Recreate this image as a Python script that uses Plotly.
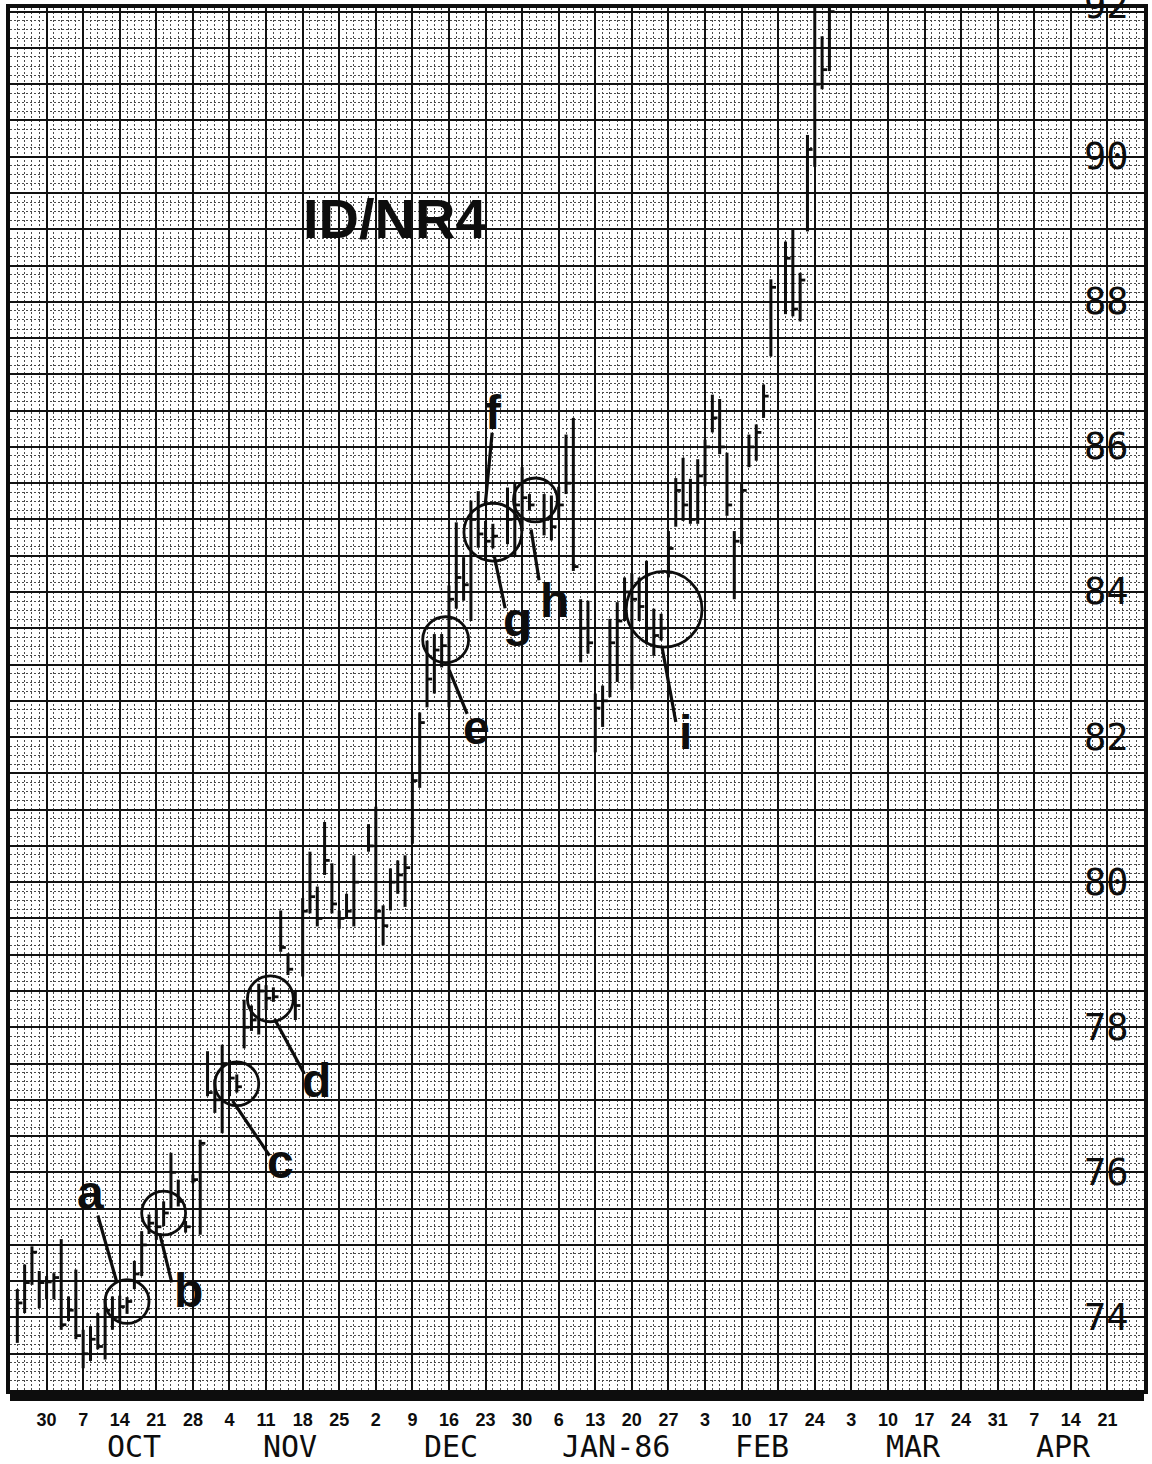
import plotly.graph_objects as go

# ---------------------------------------------------------------------------
# Daily T-bond futures bars (high / low / close).
# Slot 0 = Monday 30 Sep 1985, five trading-day slots per week on the paper,
# exchange holidays are simply left empty.
# ---------------------------------------------------------------------------
slot = [
    -4, -3, -2, -1,
    0, 1, 2, 3, 4,
    5, 6, 7, 8, 9,
    10, 11, 12, 13, 14,
    15, 16, 17, 18, 19,
    20, 21, 22, 23, 24,
    25, 26, 27, 28, 29,
    30, 31, 32, 33, 34,
    35, 36, 37, 38, 39,
    40, 41, 42, 44,
    45, 46, 47, 48, 49,
    50, 51, 52, 53, 54,
    55, 56, 57, 58, 59,
    60, 61, 63, 64,
    65, 66, 68, 69,
    70, 71, 72, 73, 74,
    75, 76, 77, 78, 79,
    80, 81, 82, 83, 84,
    85, 86, 87, 88, 89,
    90, 91, 92, 93, 94,
    95, 96, 97, 98, 99,
    101, 102, 103, 104,
    105, 106, 107,
]
high = [
    74.39, 74.73, 74.98, 74.64,
    74.57, 74.61, 75.08, 74.29, 74.66,
    73.83, 73.88, 74.06, 74.25, 74.29,
    74.30, 74.28, 74.78, 75.19, 75.42,
    75.50, 75.60, 76.27, 75.90, 75.33,
    75.97, 76.45, 77.67, 77.28, 77.76,
    77.55, 77.35, 78.38, 78.30, 78.60,
    78.58, 78.55, 79.61, 79.02, 78.51,
    79.78, 80.42, 79.94, 80.83, 80.26,
    79.61, 79.84, 80.37, 80.80,
    81.04, 79.68, 80.19, 80.30, 80.37,
    81.50, 82.34, 83.33, 83.42, 83.42,
    84.09, 84.96, 84.48, 85.26, 85.39,
    84.98, 84.94, 85.44, 85.50,
    85.72, 85.35, 85.35, 85.33,
    85.45, 86.17, 86.40, 83.90, 83.88,
    82.60, 82.71, 83.63, 83.86, 84.20,
    84.25, 84.20, 84.43, 83.77, 83.70,
    84.84, 85.57, 85.85, 85.56, 85.83,
    86.10, 86.72, 86.66, 85.92, 84.84,
    85.49, 86.17, 86.31, 86.86, 88.31,
    88.83, 89.00, 88.40, 90.30,
    92.50, 91.66, 92.50,
]
low = [
    73.65, 74.06, 74.45, 74.13,
    74.25, 74.25, 73.83, 73.95, 73.70,
    73.30, 73.40, 73.56, 73.42, 73.83,
    73.95, 74.05, 74.39, 74.57, 75.15,
    75.07, 75.26, 75.49, 75.53, 75.17,
    75.85, 75.14, 77.05, 76.82, 76.54,
    77.05, 77.10, 77.71, 77.95, 77.90,
    78.24, 78.35, 79.04, 78.72, 78.10,
    78.70, 79.57, 79.39, 80.10, 79.57,
    79.36, 79.50, 79.39, 80.42,
    79.48, 79.13, 79.61, 79.84, 79.66,
    80.53, 81.30, 82.41, 82.60, 82.96,
    82.41, 83.77, 83.88, 83.60, 84.61,
    84.43, 84.60, 84.66, 84.50,
    84.84, 85.12, 84.78, 84.71,
    85.00, 85.35, 84.29, 83.03, 83.15,
    81.79, 82.14, 82.55, 82.76, 83.60,
    82.65, 83.60, 83.28, 83.12, 83.33,
    84.20, 84.90, 84.98, 84.94, 84.94,
    85.46, 86.20, 85.90, 85.05, 83.90,
    84.66, 85.72, 85.81, 86.40, 87.25,
    87.83, 87.80, 87.73, 88.97,
    89.86, 90.93, 91.18,
]
close = [
    74.20, 74.48, 74.90, 74.48,
    74.49, 74.55, 73.90, 74.10, 73.75,
    73.50, 73.70, 73.60, 74.10, 74.00,
    74.15, 74.22, 74.60, 75.00, 75.30,
    75.25, 75.44, 76.00, 75.60, 75.25,
    75.90, 76.40, 77.10, 77.00, 77.50,
    77.30, 77.18, 78.00, 78.10, 78.50,
    78.40, 78.42, 79.10, 78.80, 78.30,
    79.60, 79.80, 79.50, 80.30, 79.70,
    79.50, 79.60, 80.00, 80.50,
    79.60, 79.40, 80.00, 80.10, 80.20,
    81.40, 82.20, 82.80, 83.20, 83.26,
    83.90, 84.20, 84.10, 85.00, 84.80,
    84.70, 84.77, 85.00, 85.20,
    85.30, 85.20, 85.00, 84.90,
    85.20, 85.50, 84.35, 83.50, 83.30,
    82.40, 82.50, 83.30, 83.60, 84.00,
    83.90, 83.80, 83.50, 83.40, 83.50,
    84.60, 85.40, 85.20, 85.00, 85.60,
    86.00, 86.40, 86.00, 85.20, 84.70,
    85.40, 86.00, 86.20, 86.70, 88.20,
    88.60, 87.90, 88.30, 90.10,
    91.00, 91.20, 92.00,
]

# Monday date of each week column on the chart paper
week_day_labels = ["30", "7", "14", "21", "28", "4", "11", "18", "25", "2",
                   "9", "16", "23", "30", "6", "13", "20", "27", "3", "10",
                   "17", "24", "3", "10", "17", "24", "31", "7", "14", "21"]
month_names = ["OCT", "NOV", "DEC", "JAN-86", "FEB", "MAR", "APR"]
price_labels = [74, 76, 78, 80, 82, 84, 86, 88, 90, 92]

# inside days flagged as NR4 (letter, bar slot)
nr4_tags = ["a", "b", "c", "d", "e", "g", "h", "i"]
nr4_slots = [11, 16, 26, 31, 54, 61, 66, 84]

# ---------------------------------------------------------------------------
# Page geometry (pixels) and helpers to place decorations by pixel
# ---------------------------------------------------------------------------
W, H = 1152, 1464
L_PX, R_PX, T_PX, B_PX = 10, 1146, 4, 1390
X0, X1 = -5, 150
Y0, Y1 = 73.0, 92.05


def px_x(px):
    return X0 + (px - L_PX) / (R_PX - L_PX) * (X1 - X0)


def px_y(py):
    return Y0 + (B_PX - py) / (B_PX - T_PX) * (Y1 - Y0)


def dx_px(n):
    return n / (R_PX - L_PX) * (X1 - X0)


def dy_px(n):
    return n / (B_PX - T_PX) * (Y1 - Y0)


def paper_y(py):
    return (B_PX - py) / (B_PX - T_PX)


def paper_x(px):
    return (px - L_PX) / (R_PX - L_PX)


INK = "#0d0d0d"
LETTERING = "DejaVu Sans Mono, Liberation Mono, monospace"
BOLD = "Liberation Sans, Arial, sans-serif"

# ---------------------------------------------------------------------------
# Bars: high-low stems plus a close tick to the right
# ---------------------------------------------------------------------------
stem_x, stem_y, tick_x, tick_y = [], [], [], []
for s, hi, lo, cl in zip(slot, high, low, close):
    stem_x += [s, s, None]
    stem_y += [lo, hi, None]
    tick_x += [s, s + 0.7, None]
    tick_y += [cl, cl, None]

fig = go.Figure()
fig.add_trace(go.Scatter(x=stem_x, y=stem_y, mode="lines",
                         line=dict(color=INK, width=3), hoverinfo="skip",
                         showlegend=False))
fig.add_trace(go.Scatter(x=tick_x, y=tick_y, mode="lines",
                         line=dict(color=INK, width=2.8), hoverinfo="skip",
                         showlegend=False))

shapes = []
annotations = []

# NR4 rings: centred on the flagged bar's close, with small pixel nudges
ring_style = {  # tag: (radius px, nudge x px, nudge y px)
    "a": (22, 0, 0), "b": (22, 0, 0), "c": (22, 0, -3), "d": (23, -3, 2),
    "e": (23, 4, -6), "g": (29, 0, -4), "h": (22, 6, -5), "i": (38, 3, -19),
}
close_by_slot = dict(zip(slot, close))
for tag, s in zip(nr4_tags, nr4_slots):
    r, nx, ny = ring_style[tag]
    cx = s + dx_px(nx)
    cy = close_by_slot[s] - dy_px(ny)
    shapes.append(dict(type="circle", xref="x", yref="y",
                       x0=cx - dx_px(r), x1=cx + dx_px(r),
                       y0=cy - dy_px(r), y1=cy + dy_px(r),
                       line=dict(color=INK, width=2.8)))

# letters and leader lines (pixel placement)
letter_pos = {
    "a": (91, 1192), "b": (189, 1290), "c": (281, 1161), "d": (317, 1080),
    "e": (477, 726), "f": (494, 410), "g": (518, 617), "h": (555, 598),
    "i": (687, 731),
}
leaders = {
    "a": ((98, 1215), (117, 1282)), "b": ((160, 1233), (172, 1282)),
    "c": ((233, 1100), (270, 1155)), "d": ((275, 1018), (305, 1073)),
    "e": ((450, 668), (468, 712)), "f": ((493, 430), (486, 503)),
    "g": ((495, 553), (506, 606)), "h": ((532, 527), (540, 578)),
    "i": ((663, 644), (677, 720)),
}
for tag, (px, py) in letter_pos.items():
    annotations.append(dict(x=px_x(px), y=px_y(py), xref="x", yref="y",
                            text=tag, showarrow=False, xanchor="center",
                            yanchor="middle",
                            font=dict(family=BOLD, size=48, color=INK,
                                      weight="bold")))
for (p0, p1) in leaders.values():
    shapes.append(dict(type="line", xref="x", yref="y",
                       x0=px_x(p0[0]), y0=px_y(p0[1]),
                       x1=px_x(p1[0]), y1=px_y(p1[1]),
                       line=dict(color=INK, width=3.2)))

# title
annotations.append(dict(x=px_x(396), y=px_y(215), xref="x", yref="y",
                        text="ID/NR4", showarrow=False,
                        font=dict(family=BOLD, size=56, color=INK,
                                  weight="bold")))

# price scale lettered inside the right edge (top figure runs off the sheet)
for p in price_labels:
    annotations.append(dict(x=paper_x(1108), y=p, xref="paper", yref="y",
                            text=str(p), showarrow=False, xanchor="center",
                            yanchor="middle", yshift=6 if p == 92 else 0,
                            font=dict(family=LETTERING, size=37, color=INK)))

# month names under the week row
month_px = [134, 290, 452, 617, 763, 915, 1065]
for name, mx in zip(month_names, month_px):
    annotations.append(dict(x=px_x(mx), y=paper_y(1447), xref="x",
                            yref="paper", text=name, showarrow=False,
                            xanchor="center", yanchor="middle",
                            font=dict(family=LETTERING, size=30, color=INK)))

# heavy base bar under the paper
shapes.append(dict(type="rect", xref="paper", yref="paper",
                   x0=0, x1=1, y0=paper_y(1401), y1=paper_y(1390),
                   fillcolor=INK, line=dict(width=0)))

week_slots = list(range(0, 150, 5))

fig.update_layout(
    width=W, height=H,
    margin=dict(l=L_PX, r=W - R_PX, t=T_PX, b=H - B_PX),
    paper_bgcolor="white", plot_bgcolor="white",
    shapes=shapes, annotations=annotations,
    xaxis=dict(range=[X0, X1], tickmode="array", tickvals=week_slots,
               ticktext=week_day_labels, ticks="", showgrid=True,
               gridcolor="#111111", gridwidth=1.6, zeroline=False,
               showline=True, mirror=True, linecolor=INK, linewidth=4,
               ticklabelstandoff=10,
               tickfont=dict(family=BOLD, size=18, color=INK, weight="bold"),
               minor=dict(tickmode="linear", tick0=0, dtick=1, showgrid=True,
                          gridcolor="#4a4a4a", griddash="1.5px,2.5px",
                          gridwidth=1)),
    yaxis=dict(range=[Y0, Y1], tick0=0, dtick=0.5, showticklabels=False,
               ticks="", showgrid=True, gridcolor="#111111", gridwidth=1.6,
               zeroline=False, showline=True, mirror=True, linecolor=INK,
               linewidth=4,
               minor=dict(tick0=0, dtick=0.125, showgrid=True,
                          gridcolor="#4a4a4a", griddash="1.5px,2.5px",
                          gridwidth=1)),
)

fig.write_html("out.html")
